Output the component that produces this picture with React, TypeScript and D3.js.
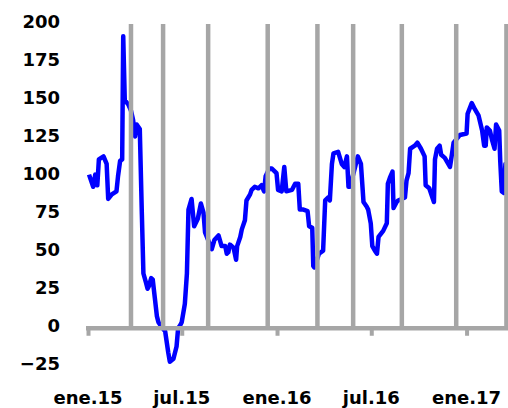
import React from 'react';
import { scaleUtc, scaleLinear, line, utcParse } from 'd3';

// series
const dates = [
  '2015-01-03', '2015-01-11', '2015-01-15', '2015-01-19', '2015-01-22', '2015-01-31', '2015-02-06', '2015-02-09',
  '2015-02-16', '2015-02-25', '2015-02-28', '2015-03-04', '2015-03-08', '2015-03-10', '2015-03-13', '2015-03-20',
  '2015-03-25', '2015-03-29', '2015-04-02', '2015-04-05', '2015-04-11', '2015-04-15', '2015-04-18', '2015-04-23',
  '2015-04-26', '2015-04-29', '2015-05-03', '2015-05-06', '2015-05-10', '2015-05-14', '2015-05-17', '2015-05-23',
  '2015-05-30', '2015-06-05', '2015-06-08', '2015-06-15', '2015-06-21', '2015-06-24', '2015-06-28', '2015-07-01',
  '2015-07-07', '2015-07-11', '2015-07-14', '2015-07-20', '2015-07-25', '2015-08-01', '2015-08-07', '2015-08-12',
  '2015-08-15', '2015-08-28', '2015-09-02', '2015-09-10', '2015-09-16', '2015-09-23', '2015-09-26', '2015-09-29',
  '2015-10-02', '2015-10-09', '2015-10-14', '2015-10-16', '2015-10-22', '2015-10-25', '2015-10-31', '2015-11-03',
  '2015-11-10', '2015-11-13', '2015-11-19', '2015-11-26', '2015-12-02', '2015-12-07', '2015-12-10', '2015-12-17',
  '2015-12-22', '2015-12-31', '2016-01-03', '2016-01-10', '2016-01-15', '2016-01-19', '2016-01-30', '2016-02-05',
  '2016-02-11', '2016-02-14', '2016-02-21', '2016-02-29', '2016-03-03', '2016-03-09', '2016-03-11', '2016-03-13',
  '2016-03-22', '2016-03-30', '2016-04-03', '2016-04-09', '2016-04-12', '2016-04-16', '2016-04-19', '2016-04-28',
  '2016-05-05', '2016-05-10', '2016-05-15', '2016-05-18', '2016-05-21', '2016-06-05', '2016-06-11', '2016-06-16',
  '2016-06-22', '2016-06-25', '2016-06-30', '2016-07-03', '2016-07-08', '2016-07-12', '2016-07-15', '2016-07-24',
  '2016-07-31', '2016-08-02', '2016-08-06', '2016-08-11', '2016-08-13', '2016-08-19', '2016-08-22', '2016-09-04',
  '2016-09-07', '2016-09-11', '2016-09-14', '2016-09-23', '2016-09-28', '2016-10-05', '2016-10-12', '2016-10-14',
  '2016-10-21', '2016-10-27', '2016-10-30', '2016-11-01', '2016-11-05', '2016-11-10', '2016-11-13', '2016-11-20',
  '2016-11-30', '2016-12-04', '2016-12-07', '2016-12-19', '2017-01-01', '2017-01-03', '2017-01-11', '2017-01-17',
  '2017-01-24', '2017-01-31', '2017-02-04', '2017-02-07', '2017-02-09', '2017-02-15', '2017-02-19', '2017-02-24',
  '2017-02-27', '2017-03-05', '2017-03-07', '2017-03-10', '2017-03-14', '2017-03-17', '2017-03-22',
];
const values = [
  101, 93, 101, 94, 111, 113, 108, 85,
  88, 90, 100, 110, 111, 192, 150, 147,
  143, 137, 126, 134, 131, 75, 36, 30,
  26, 28, 33, 32, 20, 8, 4, 1,
  -2, -16, -22, -20, -12, 0, 2, 4,
  16, 36, 78, 85, 67, 72, 82, 76,
  63, 52, 58, 61, 54, 54, 49, 50,
  55, 53, 45, 54, 60, 65, 71, 84,
  88, 91, 93, 92, 94, 90, 100, 105,
  105, 102, 91, 90, 106, 90, 91, 95,
  95, 78, 78, 77, 67, 66, 41, 40,
  49, 51, 84, 86, 84, 108, 115, 116,
  108, 106, 113, 93, 93, 113, 108, 83,
  80, 78, 69, 54, 51, 49, 60, 64,
  69, 95, 99, 103, 79, 83, 84, 86,
  97, 102, 118, 120, 122, 118, 113, 94,
  92, 86, 83, 111, 118, 120, 114, 112,
  106, 115, 122, 127, 128, 141, 148, 144,
  140, 130, 120, 120, 132, 130, 124, 118,
  134, 130, 110, 90, 89, 108, 108,
];

// vertical markers
const eventDates = [
  '2015-03-25', '2015-05-26', '2015-08-21', '2015-12-14', '2016-03-19',
  '2016-05-27', '2016-08-29', '2016-12-12', '2017-03-19',
];

const xTickDates = ['2015-01-01', '2015-07-01', '2016-01-01', '2016-07-01', '2017-01-01'];
const xTickLabels = ['ene.15', 'jul.15', 'ene.16', 'jul.16', 'ene.17'];
const yTicks = [-25, 0, 25, 50, 75, 100, 125, 150, 175, 200];

const parse = utcParse('%Y-%m-%d');
const W = 508;
const H = 408;
const grey = '#a6a6a6';
const font = '"DejaVu Sans", sans-serif';

export default function App() {
  const x = scaleUtc()
    .domain([parse('2015-01-01') as Date, parse('2017-03-22') as Date])
    .range([88, 508]);
  const y = scaleLinear().domain([-25, 200]).range([366.3, 24]);

  const pts = dates.map((d, i) => ({ d: parse(d) as Date, v: values[i] }));
  const path = line<{ d: Date; v: number }>()
    .x(p => x(p.d))
    .y(p => y(p.v))(pts);

  return (
    <svg width={W} height={H} style={{ position: 'absolute', left: 0, top: 0, background: '#fff' }}>
      <path d={path || ''} fill="none" stroke="#0000ff" strokeWidth={4.5} strokeLinejoin="round" />

      {eventDates.map(d => (
        <line key={d} x1={x(parse(d) as Date)} x2={x(parse(d) as Date)} y1={y(200)} y2={y(0)}
          stroke={grey} strokeWidth={4.5} />
      ))}

      <line x1={86} x2={508} y1={y(0)} y2={y(0)} stroke={grey} strokeWidth={4.5} />
      {xTickDates.map(d => (
        <line key={d} x1={x(parse(d) as Date) + 0.5} x2={x(parse(d) as Date) + 0.5} y1={y(0)} y2={y(0) + 7.5}
          stroke={grey} strokeWidth={4} />
      ))}

      {yTicks.map(t => (
        <text key={t} x={60} y={y(t) + 3.5} textAnchor="end" fontFamily={font} fontWeight="bold" fontSize={18}>
          {t < 0 ? '\u2212' + Math.abs(t) : t}
        </text>
      ))}
      {xTickDates.map((d, i) => (
        <text key={d} x={x(parse(d) as Date)} y={404} textAnchor="middle" fontFamily={font} fontWeight="bold" fontSize={18}>
          {xTickLabels[i]}
        </text>
      ))}
    </svg>
  );
}
